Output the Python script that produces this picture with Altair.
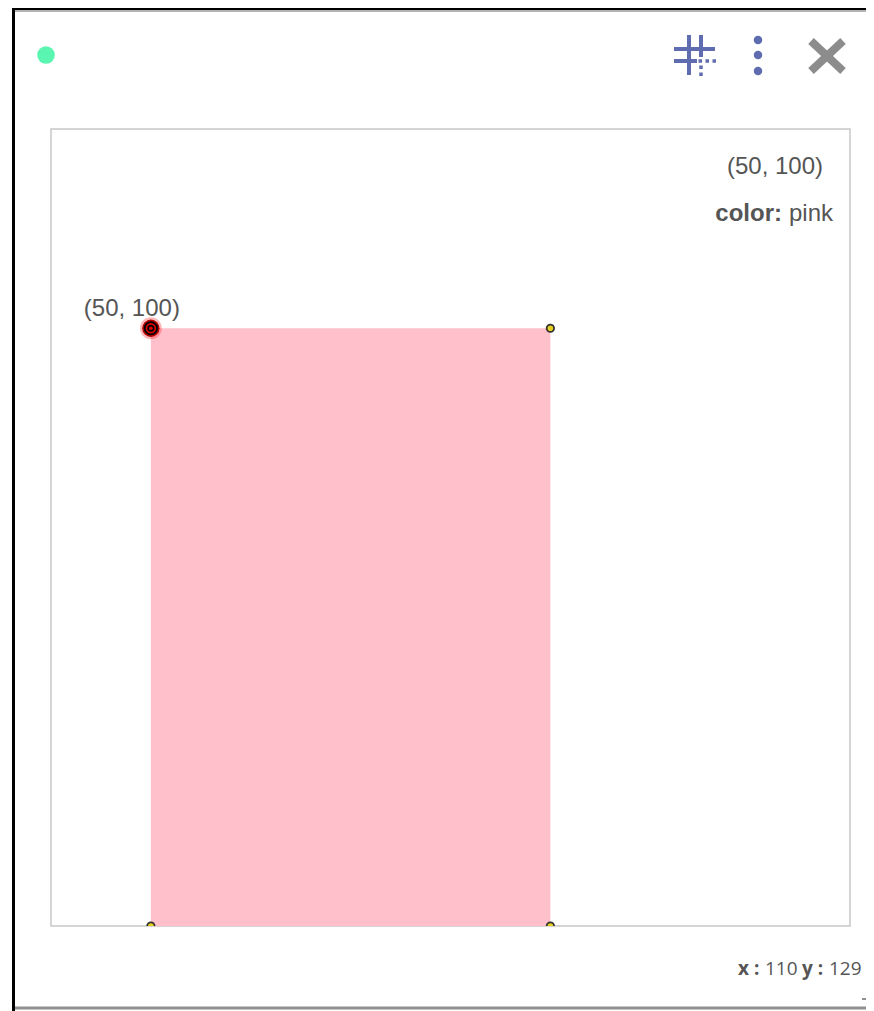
import altair as alt
import pandas as pd

# Data values
rect_x = [50]
rect_x2 = [250]
rect_y = [100]
rect_y2 = [400]
rect_color = ["#FFC0CB"]
handle_x = [250, 250, 50]
handle_y = [100, 400, 400]
active_x = [50]
active_y = [100]
active_label = ["(50, 100)"]

# Plot frame origin in window pixels
OX, OY = 51, 129
XS = alt.Scale(domain=[0, 400], nice=False, zero=False)
YS = alt.Scale(domain=[0, 400], nice=False, zero=False, reverse=True)
X = alt.X("x:Q", scale=XS, axis=None)
Y = alt.Y("y:Q", scale=YS, axis=None)

rects = pd.DataFrame({"x": rect_x, "x2": rect_x2, "y": rect_y, "y2": rect_y2, "c": rect_color})
handles = pd.DataFrame({"x": handle_x, "y": handle_y})
active = pd.DataFrame({"x": active_x, "y": active_y, "t": active_label})


def line(x1, y1, x2, y2, color, width, dash=None, cap="butt"):
    kw = dict(color=color, strokeWidth=width, strokeCap=cap)
    if dash:
        kw["strokeDash"] = dash
    return alt.Chart().mark_rule(**kw).encode(
        x=alt.value(x1 - OX), x2=alt.value(x2 - OX),
        y=alt.value(y1 - OY), y2=alt.value(y2 - OY),
    )


def label(s, px, py, align="left", size=24, weight="normal", font="Liberation Sans", color="#555555"):
    return alt.Chart().mark_text(
        text=s, align=align, baseline="alphabetic", fontSize=size,
        fontWeight=weight, font=font, color=color, clip=False,
    ).encode(x=alt.value(px - OX), y=alt.value(py - OY))


def dot(px, py, size, color):
    return alt.Chart().mark_point(filled=True, size=size, color=color, opacity=1, shape="circle").encode(
        x=alt.value(px - OX), y=alt.value(py - OY)
    )


rect_layer = alt.Chart(rects).mark_rect(clip=True).encode(
    x=X, x2="x2:Q", y=Y, y2="y2:Q",
    color=alt.Color("c:N", scale=None, legend=None),
)
handle_layer = alt.Chart(handles).mark_point(
    filled=True, clip=True, shape="circle", size=55, color="#E6CF1E",
    stroke="#333333", strokeWidth=1.8, opacity=1,
).encode(x=X, y=Y)


def active_ring(size, fill, stroke=None, sw=0, opacity=1):
    kw = dict(filled=True, shape="circle", size=size, color=fill, opacity=opacity)
    if stroke:
        kw.update(stroke=stroke, strokeWidth=sw)
    return alt.Chart(active).mark_point(**kw).encode(x=X, y=Y)


active_label_layer = alt.Chart(active).mark_text(
    align="center", baseline="alphabetic", fontSize=24, font="Liberation Sans",
    color="#555555", dx=-19, dy=-12,
).encode(x=X, y=Y, text="t:N")

BLUE = "#5F6DB0"
GREY = "#8C8C8C"

chrome = [
    # window frame
    line(13.5, 8, 13.5, 1011, "#000000", 3),
    line(13, 9, 874, 9, "#000000", 2),
    line(15, 11, 874, 11, "#9A9A9A", 1.5),
    line(15, 1008, 874, 1008, "#8F8F8F", 3),
    line(862, 999, 874, 999, "#8F8F8F", 2),
    # status dot
    dot(46, 55, 310, "#5AF5B0"),
    # grid icon
    line(674, 49, 715, 49, BLUE, 4),
    line(674, 61, 697, 61, BLUE, 4),
    line(689, 35, 689, 75, BLUE, 4),
    line(701, 35, 701, 57, BLUE, 4),
    line(698.5, 61, 716, 61, BLUE, 3.5, [3.5, 3.5]),
    line(701, 65.5, 701, 76, BLUE, 3.5, [3.5, 3.5]),
    # menu dots
    dot(758, 40, 72, BLUE),
    dot(758, 55, 72, BLUE),
    dot(758, 71, 72, BLUE),
    # close
    line(811, 41, 843, 71, GREY, 8),
    line(843, 41, 811, 71, GREY, 8),
    # info box
    label("(50, 100)", 823, 174, "right"),
    label("color:", 782, 221, "right", weight="bold"),
    label("pink", 833, 221, "right"),
    # coordinates
    label("x :", 738, 975, size=19, weight="bold", font="Open Sans"),
    label("110", 765, 975, size=19, font="Open Sans"),
    label("y :", 802, 975, size=19, weight="bold", font="Open Sans"),
    label("129", 829, 975, size=19, font="Open Sans"),
]

chart = alt.layer(
    rect_layer,
    handle_layer,
    active_ring(480, "#FF0000", opacity=0.28),
    active_ring(300, "#B00000"),
    active_ring(200, "#000000"),
    active_ring(110, "#E00000"),
    active_ring(50, "#000000"),
    active_ring(14, "#E00000"),
    active_label_layer,
    *chrome,
).properties(
    width=799,
    height=797,
    padding={"left": 43, "top": 121, "right": 16, "bottom": 85},
    autosize=alt.AutoSizeParams(type="none"),
    background="#FFFFFF",
).configure_view(stroke="#C8C8C8", strokeWidth=1.5)

chart.save("out.html", embed_options={"renderer": "svg", "actions": False})
